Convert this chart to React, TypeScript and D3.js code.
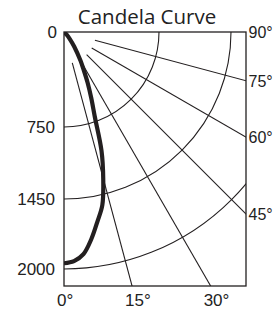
import React from "react";
import * as d3 from "d3";

// candela values (angle in degrees from nadir)
const curveAngles = [0, 2.5, 5, 7.5, 10, 12.5, 15, 17.5, 20, 22.5, 25, 27.5, 30, 35, 40, 45, 50];
const candela = [1955, 1940, 1890, 1780, 1650, 1530, 1300, 1040, 710, 560, 440, 335, 260, 140, 70, 30, 0];

const radialTicks = [0, 750, 1450, 2000];
const rayAngles = [15, 30, 45, 60, 75];
const bottomTicks = [0, 15, 30];
const rightTicks = [90, 75, 60, 45];

const W = 273;
const H = 310;
const ox = 64;
const oy = 32;
const boxW = 182;
const boxH = 254;
const ink = "#231f20";

export default function App() {
  const r = d3.scaleLinear().domain(radialTicks).range([0, 95, 167, 237]);
  const rad = (deg: number) => (deg * Math.PI) / 180;

  const curve = d3
    .lineRadial<number>()
    .angle((_, i) => Math.PI - rad(curveAngles[i]))
    .radius((d) => r(d))
    .curve(d3.curveCatmullRom);

  const tickFont = "'Liberation Sans', Arial, sans-serif";

  return (
    <svg width={W} height={H} style={{ position: "absolute", left: 0, top: 0, background: "#fff" }}>
      <defs>
        <clipPath id="box">
          <rect x={ox} y={oy} width={boxW} height={boxH} />
        </clipPath>
      </defs>
      <text x={147} y={24} textAnchor="middle" fontFamily="'Open Sans', 'Noto Sans', sans-serif" fontSize={20.5} fill="#222">
        Candela Curve
      </text>

      <g clipPath="url(#box)" stroke={ink} fill="none" strokeWidth={1.1}>
        {radialTicks.slice(1).map((v) => (
          <circle key={v} cx={ox} cy={oy} r={r(v)} />
        ))}
        {rayAngles.map((a) => (
          <line
            key={a}
            x1={ox + 32 * Math.sin(rad(a))}
            y1={oy + 32 * Math.cos(rad(a))}
            x2={ox + 400 * Math.sin(rad(a))}
            y2={oy + 400 * Math.cos(rad(a))}
          />
        ))}
      </g>

      <rect x={ox} y={oy} width={boxW} height={boxH} fill="none" stroke={ink} strokeWidth={1.3} />

      <g clipPath="url(#box)">
        <path
          d={curve(candela) || ""}
          transform={`translate(${ox},${oy})`}
          fill="none"
          stroke={ink}
          strokeWidth={4.2}
          strokeLinejoin="round"
        />
      </g>

      <g fontFamily={tickFont} fontSize={17} fill="#222">
        {radialTicks.map((v) => (
          <text key={v} x={v === 0 ? 57 : 55} y={oy + r(v)} dy="0.36em" textAnchor="end">
            {v}
          </text>
        ))}
        {bottomTicks.map((a) => (
          <text key={a} x={ox + boxH * Math.tan(rad(a)) - 7} y={306}>
            {a}°
          </text>
        ))}
        {rightTicks.map((a) => (
          <text key={a} x={248.5} y={oy + (a === 90 ? 0 : boxW / Math.tan(rad(a)))} dy="0.36em" fontSize={16}>
            {a}°
          </text>
        ))}
      </g>
    </svg>
  );
}
